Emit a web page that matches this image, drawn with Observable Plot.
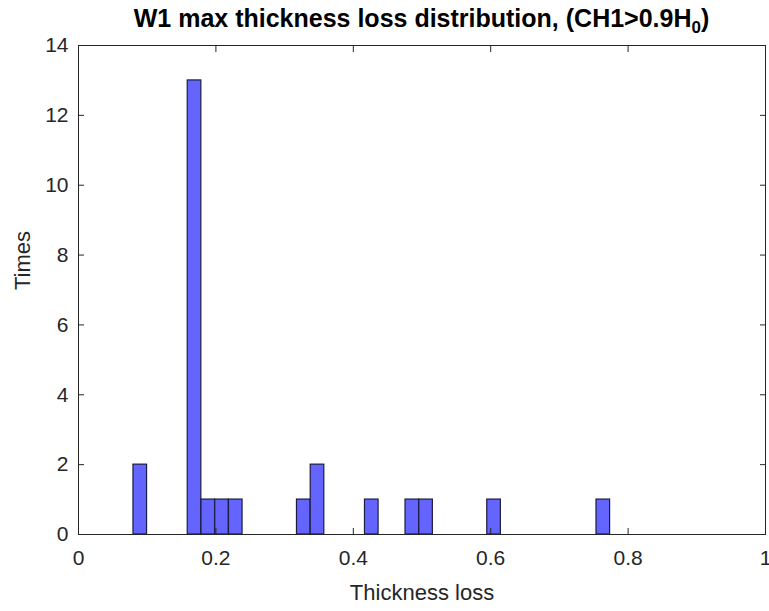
<!DOCTYPE html>
<html>
<head>
<meta charset="utf-8">
<script src="https://cdn.jsdelivr.net/npm/d3@7"></script>
<script src="https://cdn.jsdelivr.net/npm/@observablehq/plot@0.6"></script>
<style>
  html, body { margin: 0; padding: 0; background: #fff; }
  #wrap { position: relative; width: 769px; height: 611px; overflow: hidden; }
  #title { position: absolute; left: 78px; width: 687px; top: 3px; text-align: center; z-index: 2;
    font-family: "Liberation Sans", Arial, sans-serif; font-weight: bold; font-size: 25px; color: #000; line-height: 30px; white-space: nowrap; }
  #title sub { font-size: 17px; line-height: 0; vertical-align: -6px; }
  #chart { position: absolute; left: 0; top: 0; }
  #chart svg { overflow: visible; }
</style>
</head>
<body>
<div id="wrap">
  <div id="chart"></div>
  <div id="title">W1 max thickness loss distribution, (CH1&gt;0.9H<sub>0</sub>)</div>
</div>
<script>
// Histogram bins (left edges) and counts
const binLeft = [0.080, 0.159, 0.179, 0.199, 0.219, 0.318, 0.338, 0.417, 0.476, 0.496, 0.595, 0.754];
const counts  = [2, 13, 1, 1, 1, 1, 2, 1, 1, 1, 1, 1];
const binWidth = 0.0198;
const xTicks = [0, 0.2, 0.4, 0.6, 0.8, 1];
const yTicks = [0, 2, 4, 6, 8, 10, 12, 14];
const xLabel = "Thickness loss";
const yLabel = "Times";

const bins = binLeft.map((x, i) => ({x1: x, x2: x + binWidth, y: counts[i]}));
const fmt = d => (d === 0 || d === 1) ? String(d) : d.toFixed(1);
const axisColor = "#262626";

const chart = Plot.plot({
  width: 769,
  height: 611,
  marginTop: 45,
  marginBottom: 77,
  marginLeft: 78,
  marginRight: 4,
  style: {fontFamily: "'Liberation Sans', Arial, sans-serif", fontSize: "21px", color: axisColor, background: "white"},
  x: {domain: [0, 1]},
  y: {domain: [0, 14]},
  marks: [
    Plot.rectY(bins, {x1: "x1", x2: "x2", y1: 0, y2: "y", fill: "#6464ff", stroke: "#1c1c40", strokeWidth: 1.2}),
    Plot.frame({stroke: axisColor, strokeWidth: 1}),
    Plot.axisX(xTicks, {anchor: "bottom", tickSize: 0, tickPadding: 16, tickFormat: fmt, label: null, fill: axisColor}),
    Plot.axisX(xTicks, {anchor: "bottom", tickSize: -6, tickFormat: () => "", label: null, stroke: axisColor}),
    Plot.axisX(xTicks, {anchor: "top", tickSize: -6, tickFormat: () => "", label: null, stroke: axisColor}),
    Plot.axisY(yTicks, {anchor: "left", tickSize: 0, tickPadding: 10, label: null, fill: axisColor}),
    Plot.axisY(yTicks, {anchor: "left", tickSize: -6, tickFormat: () => "", label: null, stroke: axisColor}),
    Plot.axisY(yTicks, {anchor: "right", tickSize: -6, tickFormat: () => "", label: null, stroke: axisColor}),
    Plot.text([xLabel], {frameAnchor: "bottom", dy: 58, fontSize: 22, fill: axisColor, lineAnchor: "middle"}),
    Plot.text([yLabel], {frameAnchor: "left", dx: -56, rotate: -90, fontSize: 22, fill: axisColor, lineAnchor: "middle"})
  ]
});
document.getElementById("chart").appendChild(chart);
</script>
</body>
</html>
